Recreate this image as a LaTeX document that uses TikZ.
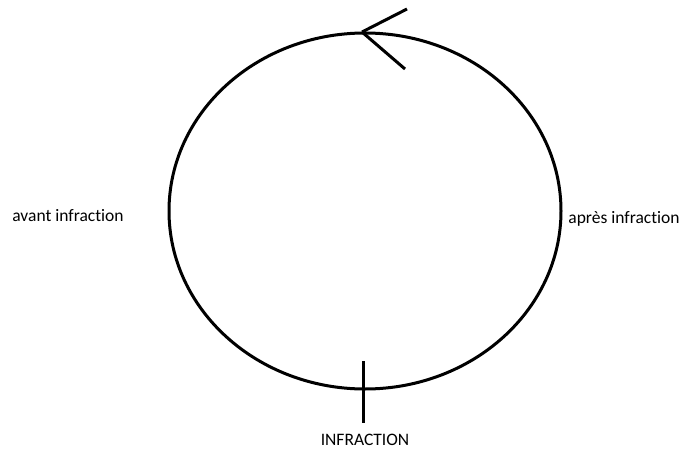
\documentclass[tikz,border=0pt]{standalone}
\usepackage{fontspec}
\setmainfont{Carlito}[Ligatures=NoCommon]
\usetikzlibrary{arrows.meta}
\newcommand{\lbl}{\fontsize{17.5}{20}\selectfont}

\begin{document}
\begin{tikzpicture}[x=1pt,y=-1pt,line width=3pt]
\useasboundingbox (0,0) rectangle (683,450);

\draw (365,211) ellipse [x radius=196,y radius=178];

\draw (362,32) coordinate(tip) ;
\draw (407,9) coordinate(up) ;
\draw (405,69) coordinate(down) ;
\draw (tip) -- (up);
\draw (tip) -- (down);

\draw (363,361) coordinate(ttop) ;
\draw (363,423) coordinate(tbot) ;
\draw (ttop) -- (tbot);

\draw (68,216) node(avant) {\lbl avant infraction} ;
\draw (624,219) node(apres) {\lbl après infraction} ;
\draw (365,440) node(infr) {\lbl INFRACTION} ;
\end{tikzpicture}
\end{document}
